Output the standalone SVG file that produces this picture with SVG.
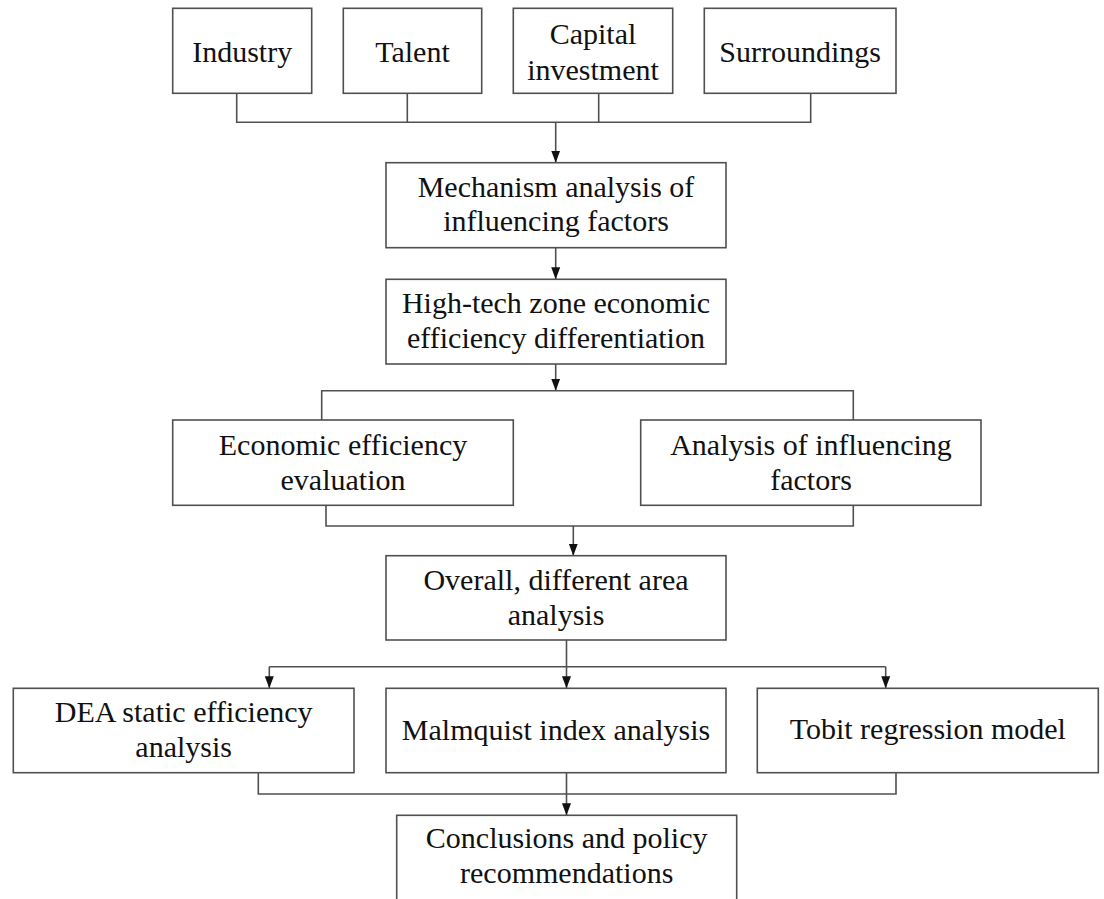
<svg xmlns="http://www.w3.org/2000/svg" width="1104" height="899" viewBox="0 0 1104 899">
<defs>
<marker id="arr" markerUnits="userSpaceOnUse" markerWidth="12" markerHeight="10" refX="12" refY="5" orient="auto">
<path d="M0,0.5 L12,5 L0,9.5 z" fill="#111"/>
</marker>
<style>
.box{fill:#fff;stroke:#505050;stroke-width:1.6}
.t{font-family:"Liberation Serif","Times New Roman",serif;font-size:30px;fill:#111;text-anchor:middle}
.c{fill:none;stroke:#505050;stroke-width:1.6}
.a{fill:none;stroke:#505050;stroke-width:1.6;marker-end:url(#arr)}
</style>
</defs>
<rect width="1104" height="899" fill="#fff"/>
<g id="connectors">
<path class="c" d="M236.7,93.3 V122.3 H810.7 V93.3 M407.3,93.3 V122.3 M598.7,93.3 V122.3"/>
<path class="a" d="M555.7,122.3 V162.7"/>
<path class="a" d="M555.7,247.7 V279.3"/>
<path class="a" d="M555.7,364 V390.7"/>
<path class="c" d="M321.7,420 V390.7 H853.3 V420"/>
<path class="c" d="M326,505.3 V526 H853.3 V505.3"/>
<path class="a" d="M573.3,526 V555.7"/>
<path class="a" d="M566.5,640 V688.3"/>
<path class="a" d="M269.3,666.7 V688.3"/>
<path class="a" d="M885.7,666.7 V688.3"/>
<path class="c" d="M269.3,666.7 H885.7"/>
<path class="c" d="M258.3,772.7 V794 H896 V772.7"/>
<path class="a" d="M566.5,772.7 V815.3"/>
</g>
<g id="industry"><rect class="box" x="172.7" y="8.3" width="139" height="85"/><text class="t" x="242.2" y="61.7">Industry</text></g>
<g id="talent"><rect class="box" x="343.3" y="8.3" width="138.4" height="85"/><text class="t" x="412.5" y="61.7">Talent</text></g>
<g id="capital"><rect class="box" x="513.3" y="8.3" width="159.4" height="85"/><text class="t" x="593" y="43.5">Capital</text><text class="t" x="593" y="79.5">investment</text></g>
<g id="surroundings"><rect class="box" x="704.3" y="8.3" width="191.7" height="85"/><text class="t" x="800.2" y="61.5">Surroundings</text></g>
<g id="mechanism"><rect class="box" x="386" y="162.7" width="340" height="85"/><text class="t" x="556" y="197">Mechanism analysis of</text><text class="t" x="556" y="231">influencing factors</text></g>
<g id="hightech"><rect class="box" x="386" y="279.3" width="340" height="84.7"/><text class="t" x="556" y="313.3">High-tech zone economic</text><text class="t" x="556" y="348.3">efficiency differentiation</text></g>
<g id="evaluation"><rect class="box" x="172.7" y="420" width="340.6" height="85.3"/><text class="t" x="343" y="455">Economic efficiency</text><text class="t" x="343" y="490">evaluation</text></g>
<g id="factors"><rect class="box" x="640.7" y="420" width="340.3" height="85.3"/><text class="t" x="811" y="455">Analysis of influencing</text><text class="t" x="811" y="490">factors</text></g>
<g id="overall"><rect class="box" x="386" y="555.7" width="340" height="84.3"/><text class="t" x="556" y="590">Overall, different area</text><text class="t" x="556" y="625">analysis</text></g>
<g id="dea"><rect class="box" x="13.3" y="688.3" width="340.7" height="84.4"/><text class="t" x="183.7" y="721.7">DEA static efficiency</text><text class="t" x="183.7" y="757.3">analysis</text></g>
<g id="malmquist"><rect class="box" x="386" y="688.3" width="340" height="84.4"/><text class="t" x="556" y="740">Malmquist index analysis</text></g>
<g id="tobit"><rect class="box" x="757.3" y="688.3" width="341" height="84.4"/><text class="t" x="927.8" y="739">Tobit regression model</text></g>
<g id="conclusions"><rect class="box" x="396.7" y="815.3" width="340" height="100"/><text class="t" x="566.7" y="848">Conclusions and policy</text><text class="t" x="566.7" y="883">recommendations</text></g>
</svg>
